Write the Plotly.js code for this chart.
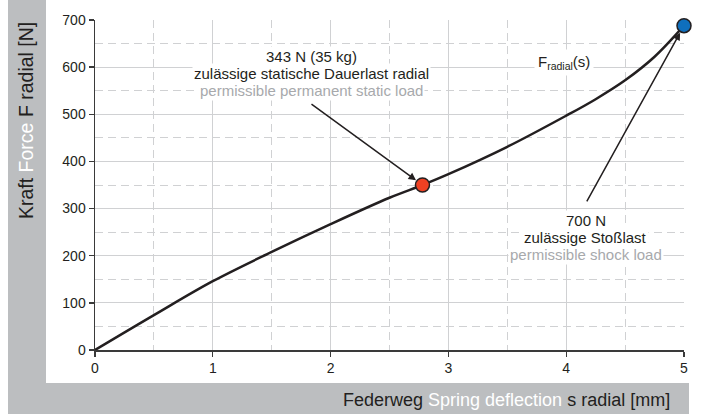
<!DOCTYPE html>
<html>
<head>
<meta charset="utf-8">
<script src="https://cdn.plot.ly/plotly-3.0.1.min.js"></script>
<style>html,body{margin:0;padding:0;background:#fff;}#chart{width:712px;height:414px;}</style>
</head>
<body>
<div id="chart"></div>
<script>
// Data
const deflection = [0, 0.5, 1, 1.5, 2, 2.5, 2.78, 3, 3.5, 4, 4.25, 4.5, 4.75, 5];
const forceRadial = [0, 74, 146, 208, 267, 323, 350, 373, 431, 497, 532, 572, 622, 688];
const staticPoint = {x: [2.78], y: [350]};
const shockPoint = {x: [5], y: [688]};
const xTicks = [0, 1, 2, 3, 4, 5];
const yTicks = [0, 100, 200, 300, 400, 500, 600, 700];
const staticLabel = ['343 N (35 kg)', 'zulässige statische Dauerlast radial', 'permissible permanent static load'];
const shockLabel = ['700 N', 'zulässige Stoßlast', 'permissible shock load'];

const dark = '#231f20';
const lightText = '#a7a9ac';
const grid = '#d0d1d3';
const band = '#bcbec0';
const fontFam = 'Liberation Sans, Arial, sans-serif';

const traces = [
  {x: deflection, y: forceRadial, mode: 'lines', line: {color: dark, width: 2.5, shape: 'spline', smoothing: 1}, hoverinfo: 'skip', cliponaxis: false},
  {x: staticPoint.x, y: staticPoint.y, mode: 'markers', marker: {color: '#ef4123', size: 14, line: {color: dark, width: 1.5}}, cliponaxis: false},
  {x: shockPoint.x, y: shockPoint.y, mode: 'markers', marker: {color: '#0f6fbd', size: 14, line: {color: dark, width: 1.5}}, cliponaxis: false}
];

// label blocks: white background boxes first, then the text lines on top (17 px line pitch)
const pitch = 17 / 0.4714;
function block(lines, xc, yTop) {
  const bg = lines.map((t, i) => ({
    xref: 'x', yref: 'y', x: xc, y: yTop - i * pitch, showarrow: false,
    text: t, font: {size: 15, color: 'rgba(0,0,0,0)'},
    bgcolor: '#ffffff', borderpad: 1
  }));
  const fg = lines.map((t, i) => ({
    xref: 'x', yref: 'y', x: xc, y: yTop - i * pitch, showarrow: false,
    text: t, font: {size: 15, color: i === 2 ? lightText : dark}, borderpad: 1
  }));
  return bg.concat(fg);
}

const layout = {
  width: 712, height: 414,
  margin: {l: 95, r: 28, t: 20, b: 64},
  paper_bgcolor: '#ffffff', plot_bgcolor: '#ffffff',
  showlegend: false,
  font: {family: fontFam, color: dark, size: 14},
  xaxis: {
    range: [0, 5], tickvals: xTicks, ticktext: xTicks.map(String),
    showgrid: true, gridcolor: grid, gridwidth: 1.2,
    zeroline: false, showline: true, linecolor: '#3a3a3a', linewidth: 1.5,
    ticks: 'outside', ticklen: 5, tickcolor: '#3a3a3a', tickwidth: 1.3,
    tickfont: {size: 14, color: dark},
    minor: {dtick: 0.5, tick0: 0, showgrid: true, gridcolor: grid, griddash: '8px,5px', gridwidth: 1, ticks: ''},
    fixedrange: true
  },
  yaxis: {
    range: [0, 700], tickvals: yTicks, ticktext: yTicks.map(String),
    showgrid: true, gridcolor: grid, gridwidth: 1.2,
    zeroline: false, showline: true, linecolor: '#3a3a3a', linewidth: 1.5,
    ticks: 'outside', ticklen: 5, tickcolor: '#3a3a3a', tickwidth: 1.3,
    tickfont: {size: 14, color: dark},
    minor: {dtick: 50, tick0: 0, showgrid: true, gridcolor: grid, griddash: '8px,5px', gridwidth: 1, ticks: ''},
    fixedrange: true
  },
  shapes: [
    {type: 'rect', xref: 'paper', yref: 'paper', x0: -0.1477, x1: -0.0832, y0: -0.1, y1: 1.07, fillcolor: band, line: {width: 0}, layer: 'below'},
    {type: 'rect', xref: 'paper', yref: 'paper', x0: -0.1477, x1: 1.0085, y0: -0.2, y1: -0.1, fillcolor: band, line: {width: 0}, layer: 'below'}
  ],
  annotations: [
    ...block(staticLabel, 1.834, (350 - 57) / 0.4714),
    {xref: 'x', yref: 'y', x: 2.78, y: 350, axref: 'x', ayref: 'y', ax: 1.825, ay: 524,
     text: '', showarrow: true, arrowhead: 2, arrowsize: 1, arrowwidth: 1.5, arrowcolor: dark, standoff: 8},
    {xref: 'x', yref: 'y', x: 3.98, y: 609, showarrow: false,
     text: 'F<sub>radial</sub>(s)', font: {size: 15, color: dark}, bgcolor: '#ffffff', borderpad: 3},
    ...block(shockLabel, 4.168, (350 - 221) / 0.4714),
    {xref: 'x', yref: 'y', x: 5, y: 688, axref: 'x', ayref: 'y', ax: 4.168, ay: 312,
     text: '', showarrow: true, arrowhead: 2, arrowsize: 1, arrowwidth: 1.5, arrowcolor: dark, standoff: 8},
    {xref: 'paper', yref: 'paper', x: (26 - 95) / 589, y: (350 - 121) / 330, textangle: -90, showarrow: false,
     xanchor: 'center', yanchor: 'middle',
     text: "Kraft <span style='color:#ffffff'>Force</span> F radial [N]",
     font: {size: 19.5, color: dark}},
    {xref: 'paper', yref: 'paper', x: 0.9796, y: -0.1515, showarrow: false,
     xanchor: 'right', yanchor: 'middle',
     text: "Federweg <span style='color:#ffffff'>Spring deflection</span> s radial [mm]",
     font: {size: 18, color: dark}}
  ]
};

Plotly.newPlot('chart', traces, layout, {displayModeBar: false, staticPlot: true});
</script>
</body>
</html>
